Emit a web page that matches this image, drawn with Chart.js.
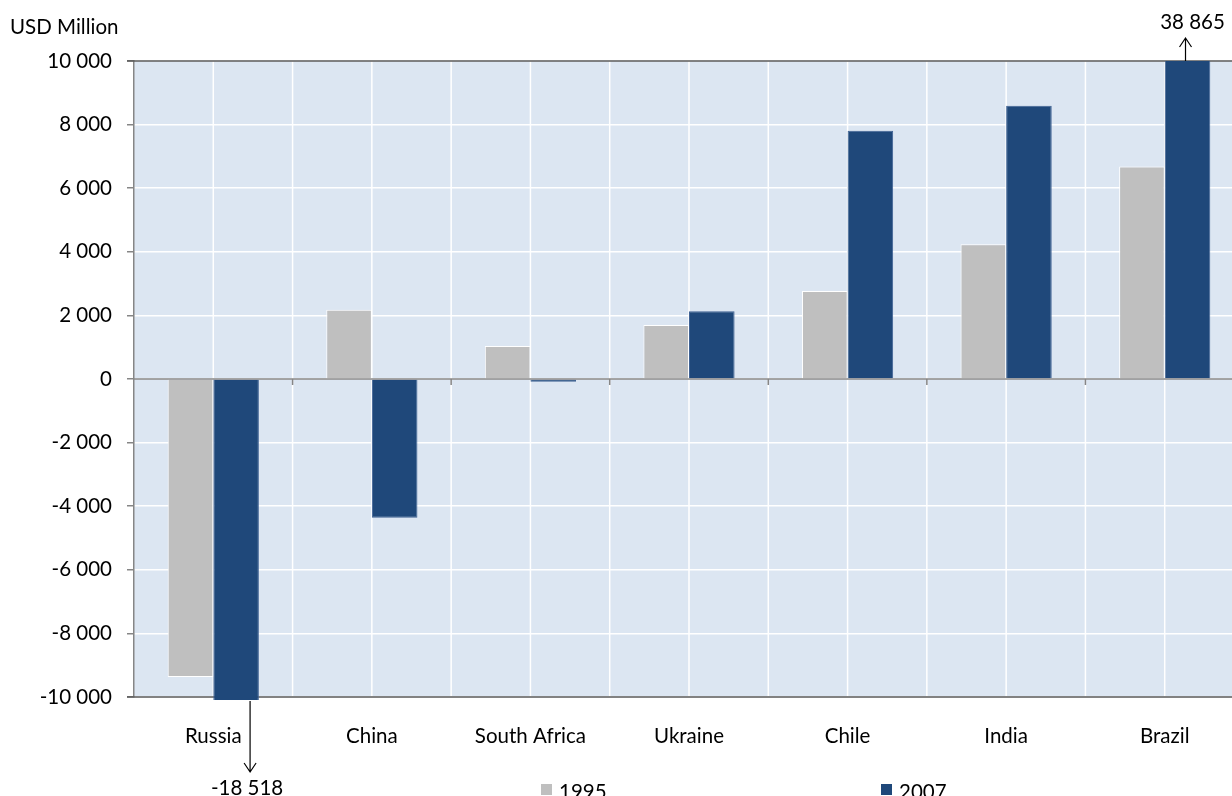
<!DOCTYPE html>
<html>
<head>
<meta charset="utf-8">
<script src="https://cdn.jsdelivr.net/npm/chart.js@4/dist/chart.umd.min.js"></script>
<style>
  html, body { margin: 0; padding: 0; background: #ffffff; overflow: hidden; }
  #wrap { position: absolute; left: 0; top: 0; width: 1250px; height: 796px; }
  canvas { display: block; }
</style>
</head>
<body>
<div id="wrap"><canvas id="chart" width="1250" height="796"></canvas></div>
<script>
// Net flows by country, USD million
const categories = ['Russia', 'China', 'South Africa', 'Ukraine', 'Chile', 'India', 'Brazil'];
const seriesNames = ['1995', '2007'];
const values1995 = [-9370, 2180, 1040, 1700, 2770, 4240, 6680];
const values2007 = [-18518, -4360, -90, 2130, 7810, 8590, 38865];
const yMin = -10000;
const yMax = 10000;
const yStep = 2000;
const unitLabel = 'USD Million';

const FONT = 'Lato, "Open Sans", sans-serif';
const FONT_SIZE = 20.5;
const GRAY = '#BFBFBF';
const BLUE = '#1F487A';
const PLOT_BG = '#DCE6F2';
const AXIS = '#868686';
const FRAME = '#595959';

function fmt(v) {
  const s = Math.abs(Math.round(v)).toString().replace(/\B(?=(\d{3})+(?!\d))/g, ' ');
  return (v < 0 ? '-' : '') + s;
}

function arrow(ctx, x, y1, y2) {
  ctx.beginPath();
  ctx.moveTo(x, y1);
  ctx.lineTo(x, y2);
  const dir = y2 > y1 ? -1 : 1;
  ctx.moveTo(x - 6, y2 + dir * 9);
  ctx.lineTo(x, y2);
  ctx.lineTo(x + 6, y2 + dir * 9);
  ctx.stroke();
}

const decor = {
  id: 'decor',
  beforeDraw(chart) {
    const { ctx, chartArea: a } = chart;
    ctx.save();
    ctx.fillStyle = PLOT_BG;
    ctx.fillRect(a.left, a.top, a.right - a.left, a.bottom - a.top);
    ctx.restore();
  },
  beforeDatasetsDraw(chart) {
    const { ctx, chartArea: a, scales } = chart;
    const x = scales.x, y = scales.y;
    const n = categories.length;
    const w = (a.right - a.left) / n;
    ctx.save();
    // vertical grid: category boundaries and centres
    ctx.strokeStyle = '#ffffff';
    ctx.lineWidth = 1.5;
    for (let i = 0; i < n; i++) {
      const c = x.getPixelForValue(i);
      const b = c + w / 2;
      ctx.beginPath();
      ctx.moveTo(c, a.top); ctx.lineTo(c, a.bottom);
      if (i < n - 1) { ctx.moveTo(b, a.top); ctx.lineTo(b, a.bottom); }
      ctx.stroke();
    }
    // top and bottom frame
    ctx.strokeStyle = FRAME;
    ctx.lineWidth = 1.5;
    ctx.beginPath();
    ctx.moveTo(a.left - 7, a.top); ctx.lineTo(a.right, a.top);
    ctx.moveTo(a.left - 7, a.bottom); ctx.lineTo(a.right, a.bottom);
    ctx.stroke();
    // zero axis with category tick marks
    const y0 = y.getPixelForValue(0);
    ctx.strokeStyle = AXIS;
    ctx.lineWidth = 1.5;
    ctx.beginPath();
    ctx.moveTo(a.left, y0); ctx.lineTo(a.right, y0);
    for (let i = 0; i < n; i++) {
      const b = x.getPixelForValue(i) + w / 2;
      ctx.moveTo(b, y0); ctx.lineTo(b, y0 + 6);
    }
    ctx.stroke();
    ctx.restore();
  },
  afterDraw(chart) {
    const { ctx, chartArea: a } = chart;
    ctx.save();
    ctx.fillStyle = '#000';
    ctx.strokeStyle = '#000';
    ctx.lineWidth = 1.2;
    ctx.font = FONT_SIZE + 'px ' + FONT;
    // unit label
    ctx.textAlign = 'left';
    ctx.textBaseline = 'middle';
    ctx.fillText(unitLabel, 10, 27);

    // off-scale values: arrows and value labels
    chart.data.datasets.forEach((ds, di) => {
      const meta = chart.getDatasetMeta(di);
      ds.data.forEach((v, i) => {
        if (v > yMax || v < yMin) {
          const bar = meta.data[i];
          ctx.textAlign = 'center';
          ctx.textBaseline = 'middle';
          if (v < yMin) {
            const ax = bar.x + 14;
            arrow(ctx, ax, a.bottom + 4, a.bottom + 75);
            ctx.fillText(fmt(v), ax - 3, a.bottom + 91);
          } else {
            const ax = bar.x - 2;
            arrow(ctx, ax, a.top, a.top - 23);
            ctx.fillText(fmt(v), ax + 7, a.top - 39);
          }
        }
      });
    });

    // legend
    const legendX = [541, 881];
    chart.data.datasets.forEach((ds, di) => {
      const lx = legendX[di];
      ctx.fillStyle = ds.backgroundColor;
      ctx.fillRect(lx, 784, 11, 11);
      ctx.fillStyle = '#000';
      ctx.textAlign = 'left';
      ctx.textBaseline = 'middle';
      ctx.fillText(ds.label, lx + 18, 792);
    });
    ctx.restore();
  }
};

new Chart(document.getElementById('chart'), {
  type: 'bar',
  data: {
    labels: categories,
    datasets: [
      {
        label: seriesNames[0],
        data: values1995,
        backgroundColor: GRAY,
        borderColor: '#ffffff',
        borderWidth: 1,
        clip: { left: 0, top: 0, right: 0, bottom: 3 }
      },
      {
        label: seriesNames[1],
        data: values2007,
        backgroundColor: BLUE,
        borderColor: '#3F6294',
        borderWidth: 1,
        clip: { left: 0, top: 0, right: 0, bottom: 3 }
      }
    ]
  },
  options: {
    responsive: false,
    animation: false,
    layout: { padding: { top: 61, right: 6, left: 0, bottom: 0 } },
    plugins: { legend: { display: false }, tooltip: { enabled: false } },
    datasets: { bar: { categoryPercentage: 0.575, barPercentage: 1 } },
    scales: {
      x: {
        grid: { display: false, drawTicks: false },
        border: { display: false },
        ticks: {
          color: '#000',
          font: { family: FONT, size: FONT_SIZE },
          padding: 27,
          maxRotation: 0
        },
        afterFit(scale) { scale.height = 99; }
      },
      y: {
        min: yMin,
        max: yMax,
        grid: { color: '#ffffff', lineWidth: 1.5, tickLength: 7, tickColor: AXIS, tickWidth: 1.5 },
        border: { display: true, color: AXIS, width: 1.5 },
        ticks: {
          stepSize: yStep,
          color: '#000',
          padding: 15,
          font: { family: FONT, size: FONT_SIZE },
          callback: (v) => fmt(v)
        },
        afterFit(scale) { scale.width = 134; }
      }
    }
  },
  plugins: [decor]
});
</script>
</body>
</html>
